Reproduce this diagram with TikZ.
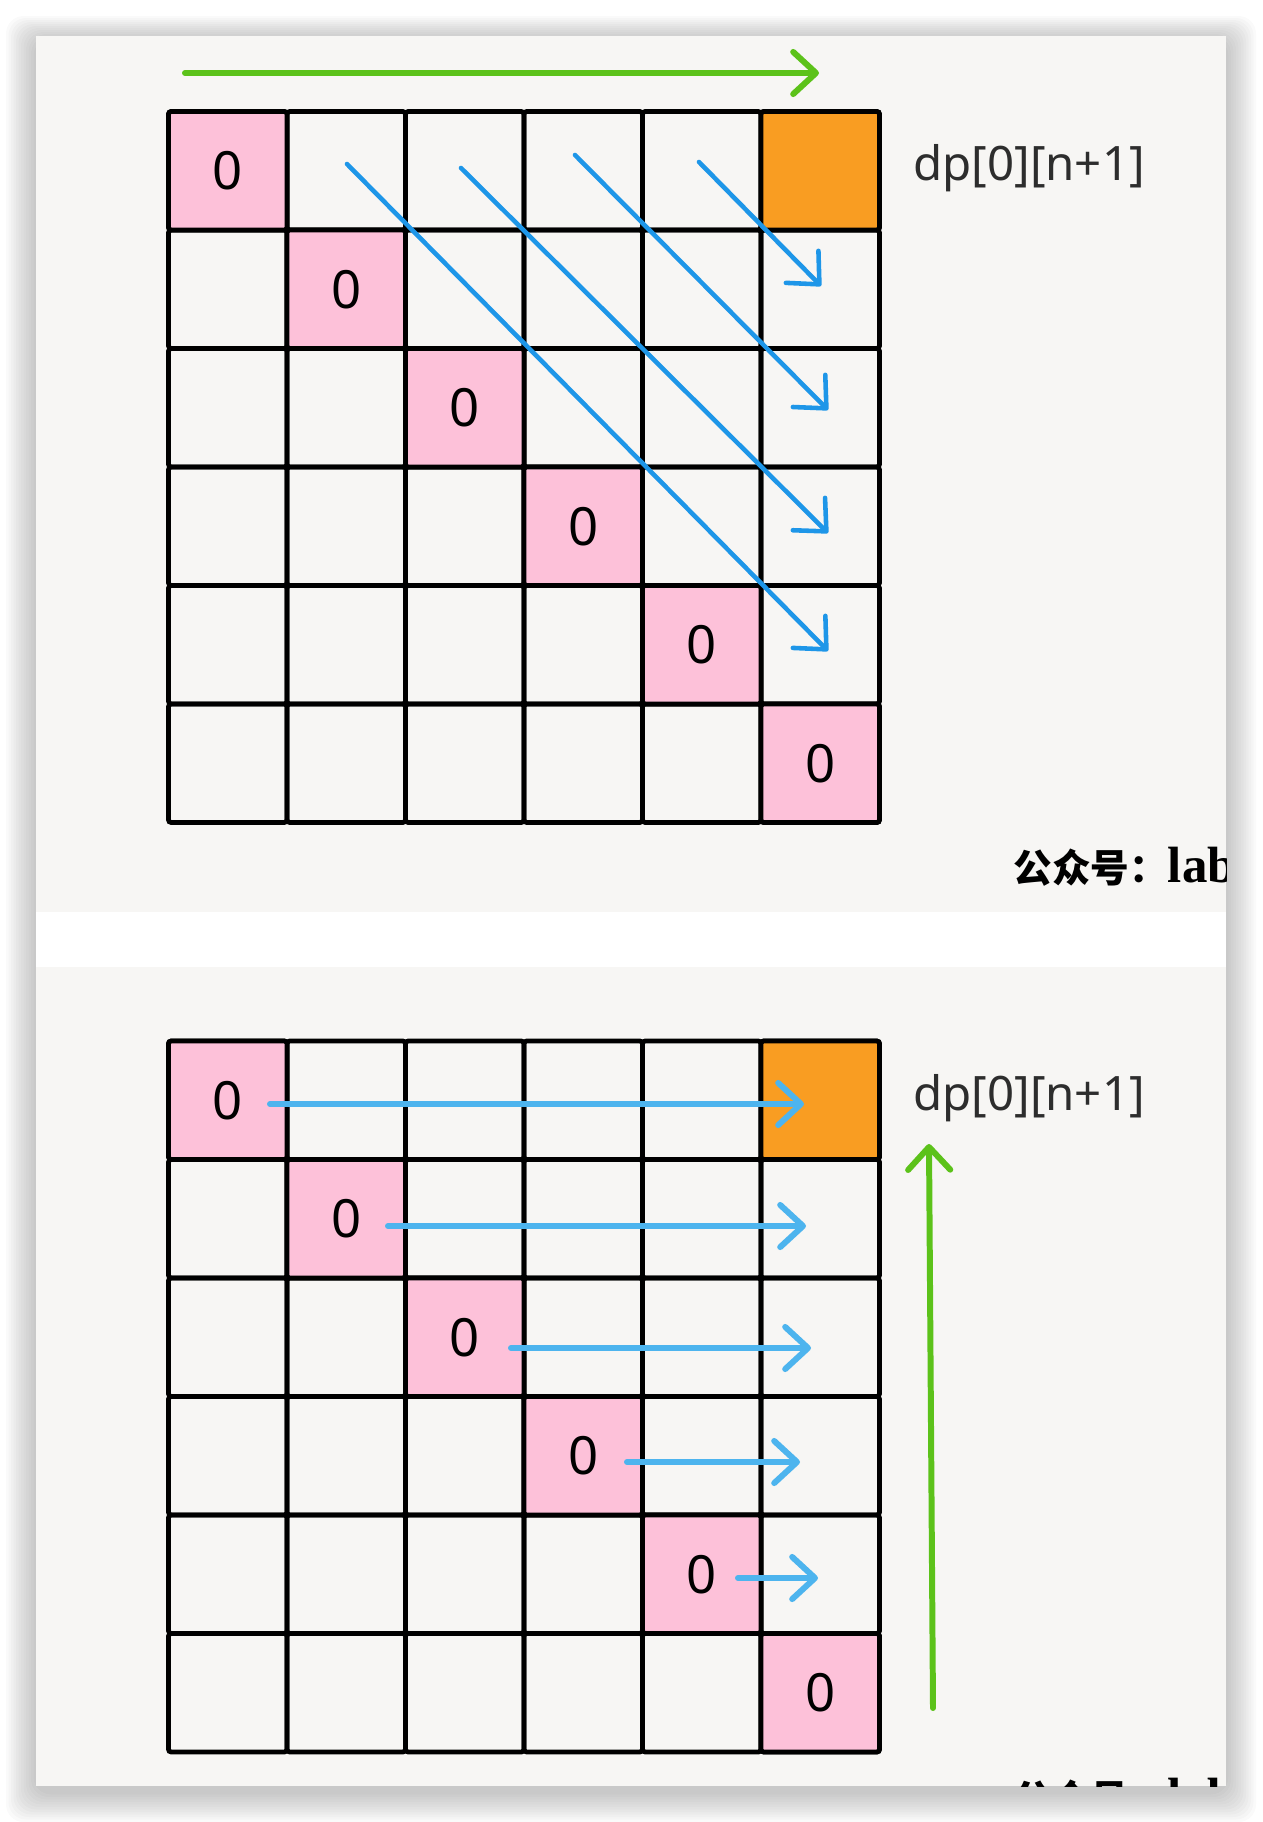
\documentclass[tikz,border=0pt]{standalone}
\usepackage{fontspec}
\setmainfont{Noto Sans}
\newfontfamily\cjkfont{Noto Sans CJK SC}
\newfontfamily\labfont{Liberation Serif}
\usepackage{tikz}
\usetikzlibrary{arrows.meta}
\definecolor{CardBg}{RGB}{247,246,244}
\definecolor{CellPink}{RGB}{253,193,217}
\definecolor{CellOrange}{RGB}{249,157,34}
\definecolor{DiagBlue}{RGB}{30,150,232}
\definecolor{RowBlue}{RGB}{77,180,238}
\definecolor{PassGreen}{RGB}{92,194,26}
\definecolor{InkGray}{RGB}{45,45,45}
\tikzset{
  cellbox/.style={draw=black,line width=2.7pt,rounded corners=1.5pt,minimum size=2.37cm,
    inner sep=0pt,font=\fontsize{30}{30}\selectfont},
  pinkbox/.style={cellbox,fill=CellPink},
  orangebox/.style={cellbox,fill=CellOrange},
  dplabel/.style={anchor=base west,inner sep=0pt,text=InkGray,font=\fontsize{27}{27}\selectfont},
}
\tikzset{diagarrow/.style={draw=DiagBlue,line width=2.6pt,line cap=round,-{Straight Barb[length=14pt,width=26pt,round]}},
  rowarrow/.style={draw=RowBlue,line width=3.4pt,line cap=round,-{Straight Barb[length=13pt,width=24pt,round]}},
  passarrow/.style={draw=PassGreen,line width=3.4pt,line cap=round,-{Straight Barb[length=13pt,width=24pt,round]}},
  sig/.style={anchor=base west,inner sep=0pt,text=black}}

\begin{document}
\begin{tikzpicture}[x=0.02cm,y=-0.02cm]
\useasboundingbox (0,0) rectangle (1262,1822);
% card with soft shadow
\foreach \i in {1,...,12}
  \fill[black,opacity=0.018,rounded corners=10pt] ({36-2.5*\i},{40-2*\i}) rectangle ({1226+2.5*\i},{1792+2.5*\i});
\fill[CardBg] (36,36) rectangle (1226,1786);
\fill[white] (36,912) rectangle (1226,967);
% the two tables
\foreach \p/\oy in {t/170.75,b/1100.25}{
  \foreach \r in {0,...,5}
    \foreach \c in {0,...,5}
      \node[cellbox] (\p-\r-\c) at ({227.75+118.5*\c},{\oy+118.5*\r}) {};
  \foreach \r in {0,...,5}
    \node[pinkbox] (\p-\r-\r) at ({227.75+118.5*\r},{\oy+118.5*\r}) {0};
  \node[orangebox] (\p-0-5) at (820.25,\oy) {};
}
\node[dplabel] (dptop) at (913,180) {dp[0][n+1]};
\node[dplabel] (dpbot) at (913,1110) {dp[0][n+1]};
% top: fill along the diagonals
\coordinate (topgo-s) at (185,73);
\coordinate (topgo-e) at (819,73);
\draw[passarrow] (topgo-s) -- (topgo-e);
\coordinate (d1-s) at (699,162);
\coordinate (d1-e) at (821,286);
\coordinate (d2-s) at (575,155);
\coordinate (d2-e) at (828,410);
\coordinate (d3-s) at (461,168);
\coordinate (d3-e) at (828,533);
\coordinate (d4-s) at (347,164);
\coordinate (d4-e) at (828,651);
\draw[diagarrow] (d1-s) -- (d1-e);
\draw[diagarrow] (d2-s) -- (d2-e);
\draw[diagarrow] (d3-s) -- (d3-e);
\draw[diagarrow] (d4-s) -- (d4-e);
% bottom: fill row by row, bottom up
\coordinate (r0-s) at (270,1104);
\coordinate (r0-e) at (804,1104);
\coordinate (r1-s) at (388,1226);
\coordinate (r1-e) at (806,1226);
\coordinate (r2-s) at (511,1348);
\coordinate (r2-e) at (811,1348);
\coordinate (r3-s) at (627,1462);
\coordinate (r3-e) at (800,1462);
\coordinate (r4-s) at (738,1578);
\coordinate (r4-e) at (818,1578);
\draw[rowarrow] (r0-s) -- (r0-e);
\draw[rowarrow] (r1-s) -- (r1-e);
\draw[rowarrow] (r2-s) -- (r2-e);
\draw[rowarrow] (r3-s) -- (r3-e);
\draw[rowarrow] (r4-s) -- (r4-e);
\coordinate (upgo-s) at (933,1708);
\coordinate (upgo-e) at (929,1144);
\draw[passarrow] (upgo-s) -- (upgo-e);
% watermark, cut by the card edges
\begin{scope}
\clip (36,36) rectangle (1226,912);
\node[sig] (sigtop) at (1013,882) {{\cjkfont\bfseries\fontsize{22}{22}\selectfont 公众号：}{\labfont\bfseries\fontsize{29}{29}\selectfont lab}};
\end{scope}
\begin{scope}
\clip (36,967) rectangle (1226,1786);
\node[sig] (sigbot) at (1013,1813) {{\cjkfont\bfseries\fontsize{22}{22}\selectfont 公众号：}{\labfont\bfseries\fontsize{29}{29}\selectfont lab}};
\end{scope}
\end{tikzpicture}
\end{document}
